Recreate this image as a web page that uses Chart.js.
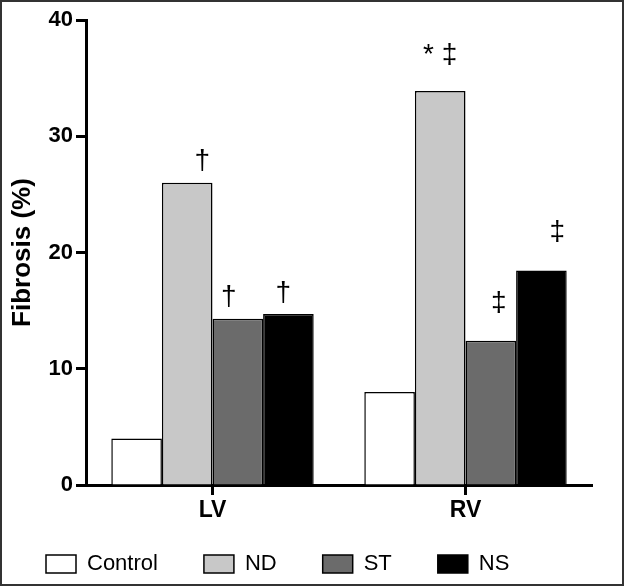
<!DOCTYPE html>
<html>
<head>
<meta charset="utf-8">
<script src="https://cdn.jsdelivr.net/npm/chart.js@4.4.1/dist/chart.umd.min.js"></script>
<style>
  html, body { margin: 0; padding: 0; background: #fff; }
  #wrap { width: 624px; height: 586px; position: relative; }
</style>
</head>
<body>
<div id="wrap"><canvas id="c" width="624" height="586"></canvas></div>
<script>
// ---- data ----
const categories = ['LV', 'RV'];
const seriesNames = ['Control', 'ND', 'ST', 'NS'];
const controlValues = [4.0, 8.0];
const ndValues = [26.0, 33.9];
const stValues = [14.3, 12.4];
const nsValues = [14.7, 18.45];
const yTicks = [0, 10, 20, 30, 40];
// significance marks per series, per category
const controlMarks = ['', ''];
const ndMarks = ['\u2020', '* \u2021'];
const stMarks = ['\u2020', '\u2021'];
const nsMarks = ['\u2020', '\u2021'];

// ---- styles ----
const fills = ['#ffffff', '#c8c8c8', '#6b6b6b', '#000000'];
// mark offsets (px) relative to bar top-centre: [dx, dy] per series per category
const markOffsets = [
  [[0, 0], [0, 0]],
  [[15, -7], [0, -22]],
  [[-9, -7], [8, -24]],
  [[-5, -7], [16, -24]]
];
const allValues = [controlValues, ndValues, stValues, nsValues];
const allMarks = [controlMarks, ndMarks, stMarks, nsMarks];

const FONT = "'Liberation Sans', Arial, Helvetica, sans-serif";

const marksPlugin = {
  id: 'marks',
  afterDatasetsDraw(chart) {
    const ctx = chart.ctx;
    ctx.save();
    ctx.fillStyle = '#000';
    ctx.textAlign = 'center';
    ctx.textBaseline = 'bottom';
    chart.data.datasets.forEach((ds, di) => {
      const meta = chart.getDatasetMeta(di);
      meta.data.forEach((bar, ci) => {
        const txt = allMarks[di][ci];
        if (!txt) return;
        const off = markOffsets[di][ci];
        ctx.font = "28px " + FONT;
        ctx.fillText(txt, bar.x + off[0], bar.y + off[1]);
      });
    });
    ctx.restore();
  },
  afterDraw(chart) {
    const ctx = chart.ctx;
    ctx.save();
    ctx.strokeStyle = '#333';
    ctx.lineWidth = 2;
    ctx.strokeRect(1, 1, chart.width - 2, chart.height - 2);
    ctx.restore();
  }
};

new Chart(document.getElementById('c'), {
  type: 'bar',
  data: {
    labels: categories,
    datasets: seriesNames.map((name, i) => ({
      label: name,
      data: allValues[i],
      backgroundColor: fills[i],
      borderColor: '#000',
      borderWidth: 1.5,
      categoryPercentage: 0.8,
      barPercentage: 1.0
    }))
  },
  options: {
    responsive: false,
    animation: false,
    events: [],
    layout: { padding: { top: 20, right: 32, bottom: 1, left: 0 } },
    plugins: {
      tooltip: { enabled: false },
      legend: {
        position: 'bottom',
        align: 'start',
        labels: {
          boxWidth: 30,
          boxHeight: 18,
          padding: 46,
          color: '#000',
          font: { family: FONT, size: 22 },
          generateLabels(chart) {
            return chart.data.datasets.map((ds, i) => ({
              text: ds.label,
              fillStyle: ds.backgroundColor,
              strokeStyle: '#000',
              lineWidth: 1.5,
              hidden: false,
              datasetIndex: i
            }));
          }
        }
      }
    },
    scales: {
      x: {
        afterFit(s) {
          s.height = 22;
          // let the category labels extend below the (short) axis box
          s._computeLabelArea = () => undefined;
        },
        grid: {
          display: true,
          offset: false,
          drawOnChartArea: false,
          drawTicks: true,
          tickLength: 10,
          tickWidth: 3,
          tickColor: '#000'
        },
        border: { display: true, color: '#000', width: 3 },
        ticks: {
          color: '#000',
          padding: 2,
          font: { family: FONT, size: 23, weight: 'bold' }
        }
      },
      y: {
        min: 0,
        max: 40,
        afterFit(s) { s.width = 86; },
        afterBuildTicks(s) { s.ticks = yTicks.map(v => ({ value: v })); },
        grid: {
          display: true,
          drawOnChartArea: false,
          drawTicks: true,
          tickLength: 10,
          tickWidth: 3,
          tickColor: '#000'
        },
        border: { display: true, color: '#000', width: 3 },
        ticks: {
          color: '#000',
          padding: 3,
          font: { family: FONT, size: 22, weight: 'bold' }
        },
        title: {
          display: true,
          text: 'Fibrosis (%)',
          color: '#000',
          padding: { top: 7, bottom: 0 },
          font: { family: FONT, size: 26, weight: 'bold' }
        }
      }
    }
  },
  plugins: [marksPlugin]
});
</script>
</body>
</html>
